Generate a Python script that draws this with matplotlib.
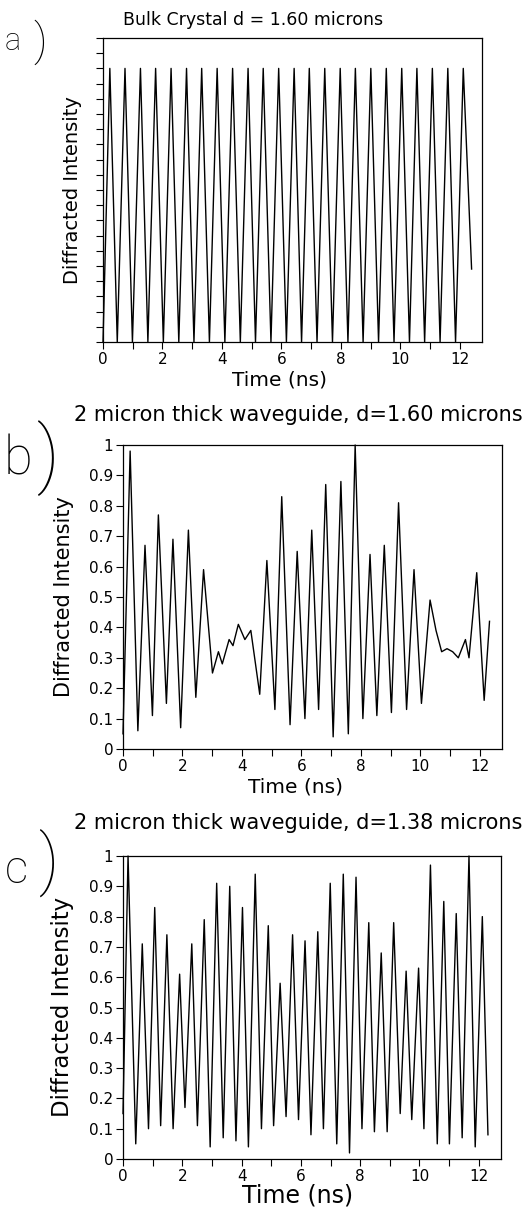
#!/usr/bin/env python3
"""Diffracted intensity vs time: bulk crystal and two waveguide cases."""

import matplotlib
matplotlib.use("Agg")
import matplotlib.pyplot as plt
from matplotlib.ticker import MultipleLocator, FormatStrFormatter, NullFormatter

# --- data (extrema of each trace) ---
time_a = [0.00, 0.23, 0.48, 0.74, 0.99, 1.26, 1.51, 1.77, 2.03, 2.29, 2.55, 2.81,
          3.06, 3.32, 3.58, 3.84, 4.10, 4.36, 4.62, 4.88, 5.13, 5.39, 5.65, 5.91,
          6.17, 6.43, 6.68, 6.94, 7.20, 7.46, 7.72, 7.98, 8.24, 8.49, 8.75, 9.01,
          9.27, 9.53, 9.79, 10.05, 10.31, 10.56, 10.82, 11.08, 11.34, 11.60, 11.86,
          12.12, 12.40]
int_a = [0.00, 0.90, 0.00, 0.90, 0.00, 0.90, 0.00, 0.90, 0.00, 0.90, 0.00, 0.90,
         0.00, 0.90, 0.00, 0.90, 0.00, 0.90, 0.00, 0.90, 0.00, 0.90, 0.00, 0.90,
         0.00, 0.90, 0.00, 0.90, 0.00, 0.90, 0.00, 0.90, 0.00, 0.90, 0.00, 0.90,
         0.00, 0.90, 0.00, 0.90, 0.00, 0.90, 0.00, 0.90, 0.00, 0.90, 0.00,
         0.90, 0.24]

time_b = [0.00, 0.24, 0.50, 0.74, 0.99, 1.19, 1.46, 1.68, 1.94, 2.20, 2.45, 2.71,
          3.01, 3.21, 3.34, 3.57, 3.70, 3.88, 4.10, 4.30, 4.60, 4.84, 5.11, 5.34,
          5.62, 5.86, 6.12, 6.35, 6.58, 6.82, 7.07, 7.33, 7.58, 7.81, 8.07, 8.31,
          8.54, 8.79, 9.03, 9.27, 9.54, 9.79, 10.04, 10.33, 10.53, 10.72, 10.90,
          11.09, 11.28, 11.52, 11.64, 11.90, 12.15, 12.33]
int_b = [0.05, 0.98, 0.06, 0.67, 0.11, 0.77, 0.15, 0.69, 0.07, 0.72, 0.17, 0.59,
         0.25, 0.32, 0.28, 0.36, 0.34, 0.41, 0.36, 0.39, 0.18, 0.62, 0.13, 0.83,
         0.08, 0.65, 0.10, 0.72, 0.13, 0.87, 0.04, 0.88, 0.05, 1.00, 0.10, 0.64,
         0.11, 0.67, 0.12, 0.81, 0.13, 0.59, 0.15, 0.49, 0.39, 0.32, 0.33,
         0.32, 0.30, 0.36, 0.30, 0.58, 0.16, 0.42]

time_c = [0.00, 0.17, 0.43, 0.65, 0.86, 1.07, 1.27, 1.48, 1.69, 1.91, 2.09, 2.32,
          2.51, 2.74, 2.94, 3.16, 3.38, 3.60, 3.81, 4.03, 4.23, 4.46, 4.67, 4.90,
          5.08, 5.30, 5.50, 5.72, 5.92, 6.14, 6.34, 6.57, 6.76, 6.99, 7.21, 7.43,
          7.64, 7.86, 8.06, 8.29, 8.48, 8.71, 8.91, 9.13, 9.35, 9.55, 9.74, 9.97,
          10.15, 10.37, 10.60, 10.82, 11.01, 11.24, 11.44, 11.67, 11.88, 12.12, 12.31]
int_c = [0.15, 1.00, 0.05, 0.71, 0.10, 0.83, 0.11, 0.74, 0.10, 0.61, 0.17, 0.71,
         0.11, 0.79, 0.04, 0.91, 0.07, 0.90, 0.06, 0.83, 0.04, 0.94, 0.10, 0.77,
         0.11, 0.58, 0.14, 0.74, 0.13, 0.72, 0.08, 0.75, 0.10, 0.91, 0.05, 0.94,
         0.02, 0.93, 0.10, 0.78, 0.09, 0.68, 0.09, 0.78, 0.15, 0.62, 0.13, 0.63,
         0.10, 0.97, 0.05, 0.85, 0.05, 0.81, 0.07, 1.00, 0.04, 0.80, 0.08]

titles = ["Bulk Crystal d = 1.60 microns",
          "2 micron thick waveguide, d=1.60 microns",
          "2 micron thick waveguide, d=1.38 microns"]
panel_letters = ["a", "b", "c"]

plt.rcParams['font.family'] = ['DejaVu Sans']

W, H = 527, 1210
fig = plt.figure(figsize=(W / 100, H / 100), dpi=100)


def fx(px):
    return px / W


def fy(py):
    return 1 - py / H


def make_axes(left, top, right, bottom):
    return fig.add_axes([fx(left), fy(bottom), (right - left) / W, (bottom - top) / H])


ax_a = make_axes(103, 38, 482, 342)
ax_b = make_axes(123, 445, 502, 749)
ax_c = make_axes(123, 856, 501, 1159)

for ax, t, y in [(ax_a, time_a, int_a), (ax_b, time_b, int_b), (ax_c, time_c, int_c)]:
    ax.plot(t, y, color='black', linewidth=1.0, clip_on=False)
    ax.set_xlim(0, 12.75)
    ax.set_ylim(0, 1)
    ax.xaxis.set_major_locator(MultipleLocator(2))
    ax.xaxis.set_minor_locator(MultipleLocator(1))
    ax.tick_params(which='both', direction='out', length=5, width=0.8,
                   labelsize=11, pad=2, top=False, right=False)
    for s in ax.spines.values():
        s.set_linewidth(0.9)

# panel a: unlabeled y ticks every 0.05
ax_a.yaxis.set_major_locator(MultipleLocator(0.05))
ax_a.yaxis.set_major_formatter(NullFormatter())
for ax in (ax_b, ax_c):
    ax.yaxis.set_major_locator(MultipleLocator(0.1))
    ax.yaxis.set_major_formatter(FormatStrFormatter('%g'))

# titles
fig.text(fx(253), fy(20), titles[0], ha='center', va='center', fontsize=12.5)
fig.text(fx(298), fy(415), titles[1], ha='center', va='center', fontsize=15)
fig.text(fx(298), fy(823), titles[2], ha='center', va='center', fontsize=15)

# axis labels
fig.text(fx(72), fy(190), "Diffracted Intensity", rotation=90,
         ha='center', va='center', fontsize=14)
fig.text(fx(64), fy(597), "Diffracted Intensity", rotation=90,
         ha='center', va='center', fontsize=15)
fig.text(fx(62), fy(1007), "Diffracted Intensity", rotation=90,
         ha='center', va='center', fontsize=16.5)
fig.text(fx(280), fy(380), "Time (ns)", ha='center', va='center', fontsize=14.5)
fig.text(fx(296), fy(787), "Time (ns)", ha='center', va='center', fontsize=14.5)
fig.text(fx(298), fy(1196), "Time (ns)", ha='center', va='center', fontsize=17)

# panel letters with tall parentheses, thin strokes
lf = dict(ha='center', va='center', family=['Roboto', 'DejaVu Sans'], fontweight='light')
fig.text(fx(13), fy(42), panel_letters[0], fontsize=22, **lf)
fig.text(fx(40), fy(42), ")", fontsize=32, **lf)
fig.text(fx(18), fy(460), panel_letters[1], fontsize=38, **lf)
fig.text(fx(48), fy(458), ")", fontsize=54, **lf)
fig.text(fx(16), fy(870), panel_letters[2], fontsize=33, **lf)
fig.text(fx(48), fy(863), ")", fontsize=48, **lf)

fig.savefig('out.png', dpi=100)
